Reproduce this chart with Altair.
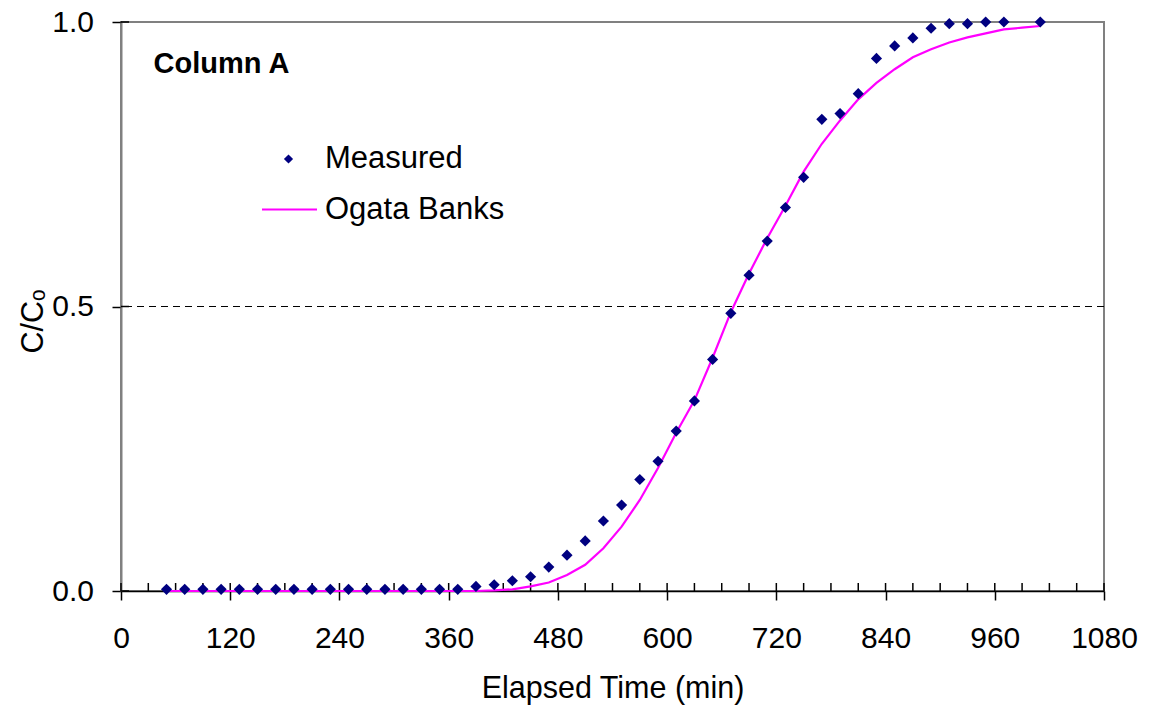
import altair as alt
import pandas as pd

FONT = "Liberation Sans"

# Measured breakthrough data (elapsed time in minutes, relative concentration)
measured_time = [50, 70, 90, 110, 130, 150, 170, 190, 210, 230, 250, 270, 290, 310,
                 330, 350, 370, 390, 410, 430, 450, 470, 490, 510, 530, 550, 570, 590,
                 610, 630, 650, 670, 690, 710, 730, 750, 770, 790, 810, 830, 850, 870,
                 890, 910, 930, 950, 970, 1010]
measured_conc = [0.003, 0.003, 0.003, 0.003, 0.003, 0.003, 0.003, 0.003, 0.003, 0.003,
                 0.003, 0.003, 0.003, 0.003, 0.003, 0.003, 0.003, 0.008, 0.011, 0.018,
                 0.025, 0.042, 0.063, 0.088, 0.123, 0.151, 0.196, 0.228, 0.281, 0.334,
                 0.407, 0.488, 0.555, 0.615, 0.674, 0.727, 0.829, 0.839, 0.874, 0.936,
                 0.958, 0.972, 0.989, 0.997, 0.997, 1.000, 1.000, 1.000]

# Ogata-Banks analytical solution
model_time = [50, 70, 90, 110, 130, 150, 170, 190, 210, 230, 250, 270, 290, 310, 330,
              350, 370, 390, 410, 430, 450, 470, 490, 510, 530, 550, 570, 590, 610, 630,
              650, 670, 690, 710, 730, 750, 770, 790, 810, 830, 850, 870, 890, 910, 930,
              950, 970, 990, 1010]
model_conc = [0, 0, 0, 0, 0, 0, 0, 0, 0, 0, 0, 0, 0, 0, 0, 0, 0, 0,
              0.001, 0.003, 0.008, 0.015, 0.028, 0.046, 0.075, 0.113, 0.160, 0.216,
              0.278, 0.335, 0.410, 0.490, 0.558, 0.620, 0.677, 0.737, 0.786, 0.827,
              0.864, 0.893, 0.917, 0.938, 0.952, 0.964, 0.973, 0.980, 0.987, 0.990, 0.993]

# Axis tick positions
x_major = [0, 120, 240, 360, 480, 600, 720, 840, 960, 1080]
x_minor = [0, 30, 60, 90, 120, 150, 180, 210, 240, 270, 300, 330, 360, 390, 420, 450,
           480, 510, 540, 570, 600, 630, 660, 690, 720, 750, 780, 810, 840, 870, 900,
           930, 960, 990, 1020, 1050, 1080]
y_major = [0.0, 0.5, 1.0]

W, H = 983, 569

measured = pd.DataFrame({"time": measured_time, "conc": measured_conc})
model = pd.DataFrame({"time": model_time, "conc": model_conc})
xticks = pd.DataFrame({"time": x_minor})
yticks = pd.DataFrame({"conc": y_major})
half = pd.DataFrame({"conc": [0.5]})

xscale = alt.Scale(domain=[0, 1080], nice=False, zero=False)
yscale = alt.Scale(domain=[0, 1], nice=False)

x_axis = alt.Axis(
    values=x_major, format="d", title="Elapsed Time (min)", grid=False,
    domainColor="black", domainWidth=1.5, tickColor="black", tickWidth=1.5, tickSize=9,
    labelFont=FONT, labelFontSize=30, labelColor="black", labelPadding=47,
    labelBaseline="alphabetic", labelFlush=False, labelOverlap=False,
    titleFont=FONT, titleFontSize=30.5, titleFontWeight="normal", titleColor="black",
    titleX=491.5, titleY=106, titleBaseline="alphabetic", titleAlign="center",
)
y_axis = alt.Axis(
    values=y_major, format=".1f", title="C/Cₒ", grid=False,
    domainColor="#808080", domainWidth=2, tickColor="black", tickWidth=1.5, tickSize=9,
    labelFont=FONT, labelFontSize=30, labelColor="black", labelPadding=18.5,
    labelOverlap=False, labelFlush=False,
    titleFont=FONT, titleFontSize=30.5, titleFontWeight="normal", titleColor="black",
    titleX=-79, titleY=299, titleBaseline="alphabetic", titleAlign="center", titleAngle=270,
)

X = alt.X("time:Q", scale=xscale, axis=x_axis)
Y = alt.Y("conc:Q", scale=yscale, axis=y_axis)

# dashed reference line at C/Co = 0.5
half_line = alt.Chart(half).mark_rule(color="black", strokeWidth=1, strokeDash=[7, 5]).encode(y=Y)

# inward tick marks on the time axis
x_inner = alt.Chart(xticks).mark_rule(color="black", strokeWidth=1.5).encode(
    x=X, y=alt.value(H - 8), y2=alt.value(H)
)
# inward tick marks on the concentration axis
y_inner = alt.Chart(yticks).mark_rule(color="black", strokeWidth=1.5).encode(
    y=Y, x=alt.value(0), x2=alt.value(8)
)

model_line = alt.Chart(model).mark_line(color="#FF00FF", strokeWidth=2.2).encode(x=X, y=Y)

points = alt.Chart(measured).mark_point(
    shape="diamond", filled=True, color="#000080", size=125, opacity=1
).encode(x=X, y=Y)

# legend and panel label
legend_pt = alt.Chart(half).mark_point(
    shape="diamond", filled=True, color="#000080", size=85, opacity=1
).encode(x=alt.value(167.5), y=alt.value(137))
legend_line = alt.Chart(half).mark_rule(color="#FF00FF", strokeWidth=2).encode(
    x=alt.value(141), x2=alt.value(196), y=alt.value(187.5)
)
txt_measured = alt.Chart(half).mark_text(
    text="Measured", font=FONT, fontSize=31, align="left", baseline="alphabetic", color="black"
).encode(x=alt.value(204), y=alt.value(146))
txt_model = alt.Chart(half).mark_text(
    text="Ogata Banks", font=FONT, fontSize=31, align="left", baseline="alphabetic", color="black"
).encode(x=alt.value(204), y=alt.value(196.5))
txt_panel = alt.Chart(half).mark_text(
    text="Column A", font=FONT, fontSize=29, fontWeight="bold", align="left",
    baseline="alphabetic", color="black"
).encode(x=alt.value(32.5), y=alt.value(51))

chart = alt.layer(
    half_line, x_inner, y_inner, model_line, points,
    legend_pt, legend_line, txt_measured, txt_model, txt_panel,
).properties(
    width=W, height=H,
    padding={"left": 121, "top": 22, "right": 45, "bottom": 122},
    autosize=alt.AutoSizeParams(type="none"),
    background="white",
).configure_view(stroke="#808080", strokeWidth=2)

chart.save("out.html", embed_options={"renderer": "svg", "actions": False})
